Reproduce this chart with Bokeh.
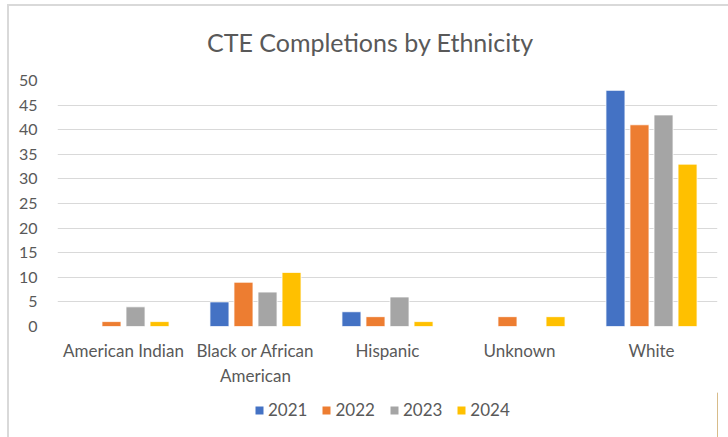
from bokeh.plotting import figure
from bokeh.models import (Range1d, FixedTicker, Legend, LegendItem, ColumnDataSource, Label)
from bokeh.layouts import column
from bokeh.transform import dodge
from bokeh.embed import file_html
from bokeh.resources import INLINE

title_text = "CTE Completions by Ethnicity"
categories = ["American Indian", "Black or African\nAmerican", "Hispanic", "Unknown", "White"]
years = ["2021", "2022", "2023", "2024"]
v2021 = [0, 5, 3, 0, 48]
v2022 = [1, 9, 2, 2, 41]
v2023 = [4, 7, 6, 0, 43]
v2024 = [1, 11, 1, 2, 33]
colors = ["#4472C4", "#ED7D31", "#A5A5A5", "#FFC000"]
y_ticks = list(range(0, 55, 5))

FONT = "Lato"
TXT = "#595959"

xs = list(range(len(categories)))
src = ColumnDataSource(dict(x=xs, v2021=v2021, v2022=v2022, v2023=v2023, v2024=v2024))


def strip(h):
    f = figure(width=719, height=h, output_backend="svg", toolbar_location=None,
               x_range=Range1d(0, 1), y_range=Range1d(0, 1),
               x_axis_type=None, y_axis_type=None,
               min_border_left=0, min_border_right=0, min_border_top=0, min_border_bottom=0)
    f.grid.visible = False
    f.outline_line_color = None
    f.border_fill_color = "white"
    f.background_fill_color = "white"
    return f


# title strip
pt = strip(64)
pt.add_layout(Label(x=0.474, y=0.453, text=title_text, text_align="center",
                    text_baseline="middle", text_font=FONT, text_font_size="25px",
                    text_color=TXT))

p = figure(width=719, height=322, output_backend="svg", toolbar_location=None,
           x_range=Range1d(-0.5, 4.5), y_range=Range1d(0, 50),
           min_border_left=48, min_border_right=11, min_border_top=10, min_border_bottom=66)
p.title = None
p.outline_line_color = None
p.background_fill_color = "white"
p.border_fill_color = "white"

step = 0.182
bw = 0.144
cols = ["v2021", "v2022", "v2023", "v2024"]
for i, (c, col) in enumerate(zip(cols, colors)):
    p.vbar(x=dodge("x", (i - 1.5) * step), top=c, width=bw, source=src,
           fill_color=col, line_color="white", line_width=0.8)

p.xgrid.grid_line_color = None
p.ygrid.grid_line_color = "#D9D9D9"
p.ygrid.grid_line_width = 1.2
p.yaxis.ticker = FixedTicker(ticks=y_ticks)
p.xaxis.ticker = FixedTicker(ticks=xs)
p.xaxis.major_label_overrides = {i: c for i, c in enumerate(categories)}

for ax in (p.xaxis[0], p.yaxis[0]):
    ax.axis_line_color = None
    ax.major_tick_line_color = None
    ax.minor_tick_line_color = None
    ax.major_label_text_font = FONT
    ax.major_label_text_color = TXT
p.yaxis.major_label_text_font_size = "16px"
p.xaxis.major_label_text_font_size = "17px"
p.yaxis.major_label_standoff = 14
p.xaxis.major_label_standoff = 7

# legend strip below the chart (legend keys only, kept outside the strip's range)
pl = strip(45)
key_src = ColumnDataSource(dict(x=[5], top=[1]))
keys = []
for col in colors:
    keys.append(pl.vbar(x="x", top="top", width=0.1, source=key_src,
                        fill_color=col, line_color=None))

legend = Legend(items=[LegendItem(label=y, renderers=[r]) for y, r in zip(years, keys)],
                orientation="horizontal", location=(197, 17),
                glyph_width=10, glyph_height=10, label_standoff=4, spacing=14,
                padding=0, margin=0, border_line_color=None, background_fill_alpha=0,
                label_text_font=FONT, label_text_font_size="17px", label_text_color=TXT)
pl.add_layout(legend, "center")

layout = column(pt, p, pl, spacing=0,
                styles={"margin-left": "7px", "margin-top": "4px",
                        "border-top": "2px solid #D9D9D9",
                        "border-left": "2px solid #D9D9D9"})
open("out.html", "w").write(file_html(layout, INLINE))
